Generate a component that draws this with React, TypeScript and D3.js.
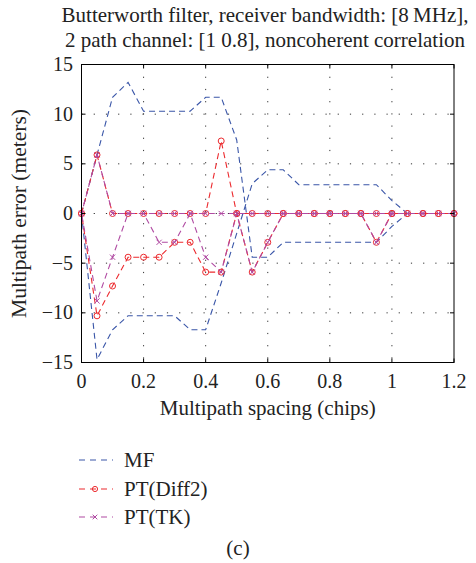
import React from 'react';
import * as d3 from 'd3';

const width = 476;
const height = 563;
const margin = { left: 81.5, right: 22, top: 64.5, bottom: 200.5 };

// multipath spacing in chips
const spacing = [0, 0.05, 0.1, 0.15, 0.2, 0.25, 0.3, 0.35, 0.4, 0.45, 0.5, 0.55, 0.6,
  0.65, 0.7, 0.75, 0.8, 0.85, 0.9, 0.95, 1.0, 1.05, 1.1, 1.15, 1.2];

// MF envelope (two branches, they cross near 0.52)
const mfA = [0, 5.9, 11.7, 13.2, 10.3, 10.3, 10.3, 10.3, 11.7, 11.7, 7.4, -4.4, -4.4,
  -2.9, -2.9, -2.9, -2.9, -2.9, -2.9, -2.9, -1.3, 0, 0, 0, 0];
const mfB = [0, -14.7, -11.7, -10.3, -10.3, -10.3, -10.3, -11.7, -11.7, -7.0, -2.0, 3.0, 4.4,
  4.4, 2.9, 2.9, 2.9, 2.9, 2.9, 2.9, 1.3, 0, 0, 0, 0];

// PT(Diff2) envelope
const diffHigh = [0, 5.9, 0, 0, 0, 0, 0, 0, 0, 7.3, 0, 0, 0,
  0, 0, 0, 0, 0, 0, 0, 0, 0, 0, 0, 0];
const diffLow = [0, -10.3, -7.3, -4.4, -4.4, -4.4, -2.9, -2.9, -5.9, -5.9, 0, -5.9, -2.9,
  0, 0, 0, 0, 0, 0, -2.9, 0, 0, 0, 0, 0];

// PT(TK) envelope
const tkHigh = [0, 5.9, 0, 0, 0, 0, 0, 0, 0, 0, 0, 0, 0,
  0, 0, 0, 0, 0, 0, 0, 0, 0, 0, 0, 0];
const tkLow = [0, -8.8, -4.4, 0, 0, -2.9, -2.9, 0, -4.4, -5.9, 0, -5.9, -2.9,
  0, 0, 0, 0, 0, 0, -2.9, 0, 0, 0, 0, 0];

const xTicks = [0, 0.2, 0.4, 0.6, 0.8, 1, 1.2];
const yTicks = [-15, -10, -5, 0, 5, 10, 15];
const titleLines = [
  'Butterworth filter, receiver bandwidth: [8\u2009MHz],',
  '2 path channel: [1 0.8], noncoherent correlation',
];
const legendItems = ['MF', 'PT(Diff2)', 'PT(TK)'];

const blue = '#3a56a8';
const red = '#ec2a2e';
const magenta = '#b04aa2';
const font = '"Liberation Serif", "DejaVu Serif", serif';
const textColor = '#222';

const x = d3.scaleLinear().domain([0, 1.2]).range([margin.left, width - margin.right]);
const y = d3.scaleLinear().domain([-15, 15]).range([height - margin.bottom, margin.top]);

const line = d3.line<number>()
  .x((d, i) => x(spacing[i]))
  .y(d => y(d));

function Circles({ values, color }: { values: number[]; color: string }) {
  return (
    <g>
      {values.map((v, i) => (
        <circle key={i} cx={x(spacing[i])} cy={y(v)} r={3} fill="none" stroke={color} strokeWidth={1} />
      ))}
    </g>
  );
}

function Crosses({ values, color }: { values: number[]; color: string }) {
  const s = 2.6;
  return (
    <g>
      {values.map((v, i) => {
        const cx = x(spacing[i]);
        const cy = y(v);
        return (
          <path key={i} d={`M${cx - s},${cy - s}L${cx + s},${cy + s}M${cx - s},${cy + s}L${cx + s},${cy - s}`}
            stroke={color} strokeWidth={1} />
        );
      })}
    </g>
  );
}

export default function App() {
  const [x0, x1] = x.range();
  const [y0, y1] = y.range();
  const dash = '6,4';
  const legendY = [460, 489, 517];
  const legendColors = [blue, red, magenta];

  return (
    <svg width={width} height={height} style={{ position: 'absolute', left: 0, top: 0, background: '#fff' }}
      fontFamily={font}>
      {/* grid */}
      {xTicks.slice(1, -1).map(t => (
        <line key={'gx' + t} x1={x(t)} x2={x(t)} y1={y1} y2={y0} stroke="#333" strokeWidth={1}
          strokeDasharray="1.2,11" />
      ))}
      {yTicks.slice(1, -1).map(t => (
        <line key={'gy' + t} x1={x0} x2={x1} y1={y(t)} y2={y(t)} stroke="#333" strokeWidth={1}
          strokeDasharray="1.2,11" />
      ))}

      {/* series */}
      <g fill="none" strokeWidth={1.1} strokeDasharray={dash}>
        <path d={line(mfA)!} stroke={blue} />
        <path d={line(mfB)!} stroke={blue} />
        <path d={line(diffHigh)!} stroke={red} />
        <path d={line(diffLow)!} stroke={red} strokeDashoffset={5} />
      </g>
      <Circles values={diffHigh} color={red} />
      <Circles values={diffLow} color={red} />
      <g fill="none" strokeWidth={1.1} strokeDasharray={dash}>
        <path d={line(tkHigh)!} stroke={magenta} strokeDashoffset={2.5} />
        <path d={line(tkLow)!} stroke={magenta} strokeDashoffset={7.5} />
      </g>
      <Crosses values={tkHigh} color={magenta} />
      <Crosses values={tkLow} color={magenta} />

      {/* frame and ticks */}
      <rect x={x0} y={y1} width={x1 - x0} height={y0 - y1} fill="none" stroke="#000" strokeWidth={1} />
      {xTicks.map(t => (
        <g key={'tx' + t} stroke="#000">
          <line x1={x(t)} x2={x(t)} y1={y0} y2={y0 - 4} />
          <line x1={x(t)} x2={x(t)} y1={y1} y2={y1 + 4} />
        </g>
      ))}
      {yTicks.map(t => (
        <g key={'ty' + t} stroke="#000">
          <line x1={x0} x2={x0 + 4} y1={y(t)} y2={y(t)} />
          <line x1={x1} x2={x1 - 4} y1={y(t)} y2={y(t)} />
        </g>
      ))}

      {/* tick labels */}
      <g fontSize={20} fill={textColor}>
        {xTicks.map(t => (
          <text key={'lx' + t} x={x(t)} y={y0 + 25} textAnchor="middle">{String(t)}</text>
        ))}
        {yTicks.map(t => (
          <text key={'ly' + t} x={x0 - 8.5} y={y(t) + 6.5} textAnchor="end">
            {t < 0 ? '\u2212' + Math.abs(t) : String(t)}
          </text>
        ))}
      </g>

      {/* axis labels */}
      <text x={(x0 + x1) / 2} y={415} textAnchor="middle" fontSize={21} fill={textColor}>
        Multipath spacing (chips)
      </text>
      <text transform={`translate(26, ${(y0 + y1) / 2}) rotate(-90)`} textAnchor="middle" fontSize={21.5} fill={textColor}>
        Multipath error (meters)
      </text>

      {/* title */}
      {titleLines.map((s, i) => (
        <text key={s} x={265} y={22 + i * 25} textAnchor="middle" fontSize={21} fill={textColor}>{s}</text>
      ))}

      {/* legend */}
      {legendItems.map((name, i) => (
        <g key={name}>
          <line x1={79} x2={113} y1={legendY[i]} y2={legendY[i]} stroke={legendColors[i]}
            strokeWidth={1.1} strokeDasharray="6,5" />
          {i === 1 && <circle cx={95} cy={legendY[i]} r={2.6} fill="none" stroke={red} />}
          {i === 2 && (
            <path d={`M92.7,${legendY[i] - 2.3}L97.3,${legendY[i] + 2.3}M92.7,${legendY[i] + 2.3}L97.3,${legendY[i] - 2.3}`}
              stroke={magenta} />
          )}
          <text x={124} y={legendY[i] + 6.5} fontSize={21} fill={textColor}>{name}</text>
        </g>
      ))}

      <text x={238} y={555} textAnchor="middle" fontSize={21} fill={textColor}>(c)</text>
    </svg>
  );
}
